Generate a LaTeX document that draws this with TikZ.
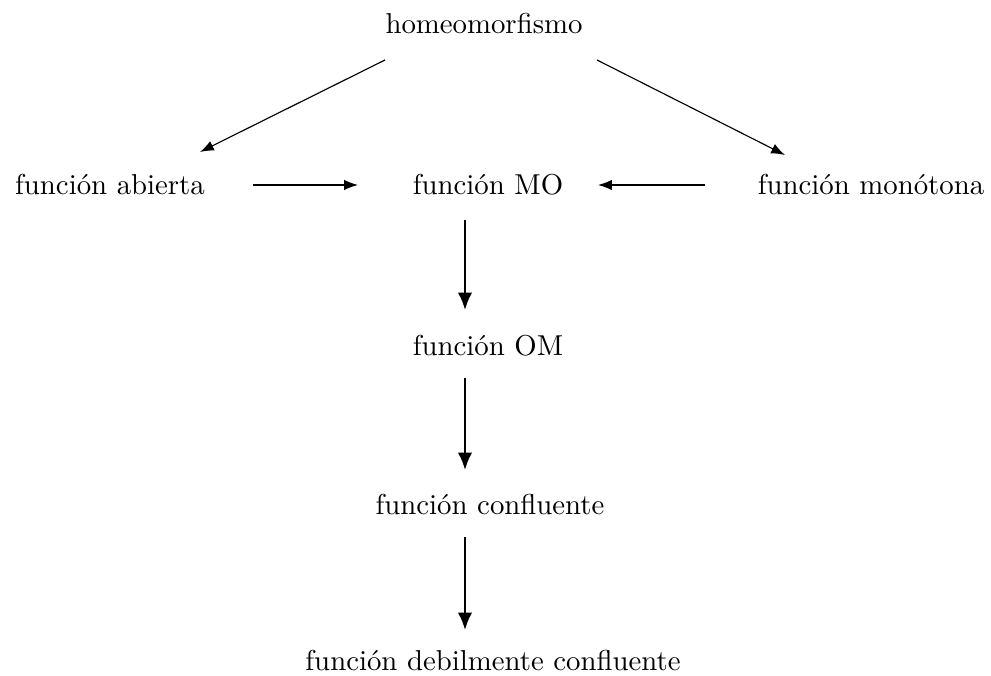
\documentclass[tikz,border=0pt]{standalone}
\usepackage{amsmath}
\usepackage{tikz}
\usetikzlibrary{positioning,arrows.meta,calc}

\begin{document}
\begin{tikzpicture}[
    > = Latex,
    x = 0.012204cm,
    y = -0.012204cm,
    txt/.style={inner sep=2pt},
    flecha/.style={->, thin},
    gruesa/.style={-{Latex[length=6pt,width=5pt]}, thick}
]
    \useasboundingbox (0,0) rectangle (991,676);

    \node[txt] (homeo) at (484,24) {homeomorfismo};
    \node[txt] (abierta) at (110,185) {función abierta};
    \node[txt] (mo) at (488,185) {función MO};
    \node[txt] (monotona) at (871,185) {función monótona};
    \node[txt] (om) at (488,346) {función OM};
    \node[txt] (confluente) at (490,505) {función confluente};
    \node[txt] (debil) at (493,661) {función debilmente confluente};

    \draw[flecha] ($(homeo)+(-99,36)$) -- ($(abierta)+(90,-33)$);
    \draw[flecha] ($(homeo)+(113,36)$) -- ($(monotona)+(-86,-30)$);
    \draw[flecha] ($(abierta)+(143,0)$) -- ($(mo)+(-130,0)$);
    \draw[flecha] ($(monotona)+(-166,0)$) -- ($(mo)+(110,0)$);

    \draw[gruesa] ($(mo)+(-23,35)$) -- ($(om)+(-23,-36)$);
    \draw[gruesa] ($(om)+(-23,32)$) -- ($(confluente)+(-25,-35)$);
    \draw[gruesa] ($(confluente)+(-25,32)$) -- ($(debil)+(-28,-31)$);
\end{tikzpicture}
\end{document}
